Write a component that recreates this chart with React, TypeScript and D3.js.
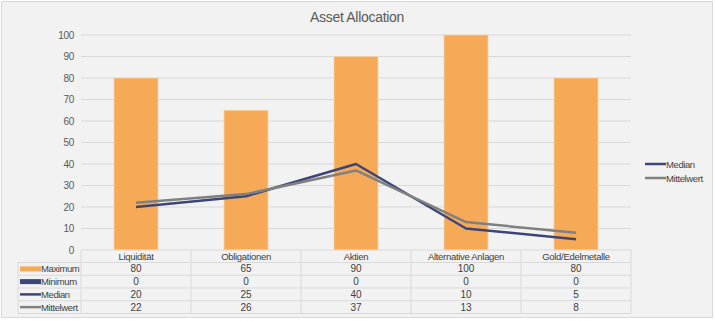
import React from "react";
import * as d3 from "d3";

const categories = ["Liquidität", "Obligationen", "Aktien", "Alternative Anlagen", "Gold/Edelmetalle"];
const maximum = [80, 65, 90, 100, 80];
const minimum = [0, 0, 0, 0, 0];
const median = [20, 25, 40, 10, 5];
const mittelwert = [22, 26, 37, 13, 8];
const yTicks = [0, 10, 20, 30, 40, 50, 60, 70, 80, 90, 100];

const ORANGE = "#f6aa58";
const NAVY = "#3c4578";
const GREY = "#808080";
const TEXT = "#595959";
const GRID = "#d9d9d9";
const FONT = "'Liberation Sans', Arial, sans-serif";

export default function App() {
  const W = 715, H = 321;
  const left = 81, right = 631, top = 35, bottom = 250;
  const x = d3.scaleBand<string>().domain(categories).range([left, right]).paddingInner(0.6).paddingOuter(0.3);
  const xc = d3.scaleBand<string>().domain(categories).range([left, right]);
  const y = d3.scaleLinear().domain([0, 100]).range([bottom, top]);
  const line = d3.line<number>().x((_, i) => xc(categories[i])! + xc.bandwidth() / 2).y(d => y(d));

  const rowH = 12.75;
  const headerBottom = 262.5;
  const rows = [
    { name: "Maximum", values: maximum, kind: "bar", color: ORANGE },
    { name: "Minimum", values: minimum, kind: "bar", color: NAVY },
    { name: "Median", values: median, kind: "line", color: NAVY },
    { name: "Mittelwert", values: mittelwert, kind: "line", color: GREY },
  ];
  const tableLeft = 18;
  const tableBottom = headerBottom + rowH * rows.length;

  return (
    <svg width={W} height={H} style={{ display: "block", position: "absolute", left: 0, top: 0 }} fontFamily={FONT}>
      <rect x={1.5} y={1.5} width={711} height={316} fill="#f2f2f2" stroke={GRID} strokeWidth={1} />
      <text x={357} y={22} textAnchor="middle" fontSize={14} fill={TEXT} letterSpacing={-0.3}>Asset Allocation</text>
      {yTicks.map(t => (
        <g key={t}>
          {t > 0 && <line x1={left} x2={right} y1={y(t)} y2={y(t)} stroke={GRID} strokeWidth={1} />}
          <text x={74} y={y(t) + 3.5} textAnchor="end" fontSize={10} fill={TEXT} letterSpacing={-0.3}>{t}</text>
        </g>
      ))}
      {categories.map((c, i) => (
        <rect key={c} x={x(c)!} y={y(maximum[i])} width={x.bandwidth()} height={bottom - y(maximum[i])} fill={ORANGE} stroke="#fbd3a6" strokeWidth={0.75} />
      ))}
      <path d={line(median)!} fill="none" stroke={NAVY} strokeWidth={2.5} strokeLinejoin="round" />
      <path d={line(mittelwert)!} fill="none" stroke={GREY} strokeWidth={2.5} strokeLinejoin="round" />

      {/* data table */}
      <line x1={left} x2={right} y1={bottom} y2={bottom} stroke={GRID} />
      {categories.map((c, i) => (
        <line key={"v" + i} x1={xc(c)!} x2={xc(c)!} y1={bottom} y2={tableBottom} stroke={GRID} />
      ))}
      <line x1={right} x2={right} y1={bottom} y2={tableBottom} stroke={GRID} />
      <line x1={tableLeft} x2={tableLeft} y1={headerBottom} y2={tableBottom} stroke={GRID} />
      {rows.map((_, r) => (
        <line key={"h" + r} x1={tableLeft} x2={right} y1={headerBottom + rowH * (r + 1)} y2={headerBottom + rowH * (r + 1)} stroke={GRID} />
      ))}
      <line x1={tableLeft} x2={right} y1={headerBottom} y2={headerBottom} stroke={GRID} />
      {categories.map(c => (
        <text key={"c" + c} x={xc(c)! + xc.bandwidth() / 2} y={bottom + 9.5} textAnchor="middle" fontSize={9.5} fill="#404040" letterSpacing={-0.3}>{c}</text>
      ))}
      {rows.map((row, r) => {
        const cy = headerBottom + rowH * r + rowH / 2;
        return (
          <g key={row.name}>
            {row.kind === "bar"
              ? <rect x={20} y={cy - 2.5} width={21} height={5} fill={row.color} />
              : <line x1={20} x2={41} y1={cy} y2={cy} stroke={row.color} strokeWidth={2.5} />}
            <text x={41} y={cy + 3.5} fontSize={9.5} fill="#404040" letterSpacing={-0.4}>{row.name}</text>
            {row.values.map((v, i) => (
              <text key={i} x={xc(categories[i])! + xc.bandwidth() / 2} y={cy + 3.5} textAnchor="middle" fontSize={10} fill="#404040">{v}</text>
            ))}
          </g>
        );
      })}

      {/* right legend */}
      {[{ name: "Median", color: NAVY }, { name: "Mittelwert", color: GREY }].map((l, i) => {
        const ly = 164 + i * 14;
        return (
          <g key={l.name}>
            <line x1={645} x2={666} y1={ly} y2={ly} stroke={l.color} strokeWidth={2.5} />
            <text x={666} y={ly + 3.5} fontSize={9.5} fill="#404040" letterSpacing={-0.4}>{l.name}</text>
          </g>
        );
      })}
    </svg>
  );
}
